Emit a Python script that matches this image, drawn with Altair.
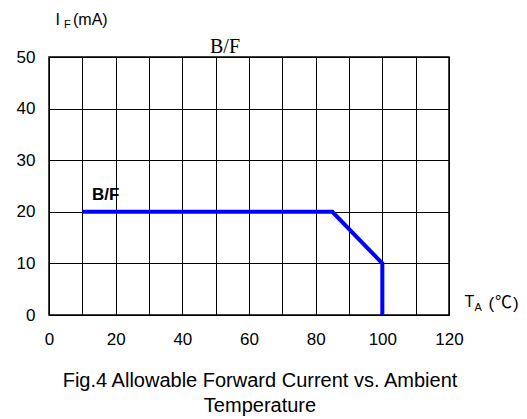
import altair as alt
import pandas as pd

# ---- data ----
temp_c = [10, 85, 100, 100]          # ambient temperature (°C)
current_ma = [20, 20, 10, 0]         # allowable forward current (mA)
x_grid = list(range(0, 121, 10))
y_grid = list(range(0, 51, 10))
series_name = "B/F"
chart_title = "B/F"
caption_lines = ["Fig.4 Allowable Forward Current vs. Ambient", "Temperature"]
y_title_main, y_title_sub, y_title_unit = "I", "F", "(mA)"
x_title_main, x_title_sub = "T", "A"
x_unit_open, x_unit, x_unit_close = "(", "℃", ")"

df = pd.DataFrame({"T": temp_c, "I": current_ma, "k": list(range(len(temp_c)))})

W, H = 400, 258
FONT = "Liberation Sans"

xscale = alt.Scale(domain=[0, 120], nice=False, zero=False)
yscale = alt.Scale(domain=[0, 50], nice=False, zero=False)

x_axis = alt.Axis(
    values=x_grid, labelExpr="datum.value % 20 == 0 ? datum.label : ''",
    grid=True, gridColor="black", gridOpacity=1, gridWidth=1,
    ticks=False, domain=False, labelFont=FONT, labelFontSize=17,
    labelColor="black", labelPadding=16, labelFlush=False, labelOverlap=False,
    title=None,
)
y_axis = alt.Axis(
    values=y_grid, grid=True, gridColor="black", gridOpacity=1, gridWidth=1,
    ticks=False, domain=False, labelFont=FONT, labelFontSize=17,
    labelColor="black", labelPadding=14, labelFlush=False, labelOverlap=False,
    title=None,
)

line = alt.Chart(df).mark_line(
    color="#0000ff", strokeWidth=4, strokeCap="butt", strokeJoin="miter"
).encode(
    x=alt.X("T:Q", scale=xscale, axis=x_axis),
    y=alt.Y("I:Q", scale=yscale, axis=y_axis),
    order="k:Q",
)


def label(text, x, y, size, font=FONT, weight="normal", align="left", **kw):
    d = pd.DataFrame({"t": [text]})
    return alt.Chart(d).mark_text(
        font=font, fontSize=size, fontWeight=weight, align=align,
        baseline="alphabetic", color="black", **kw
    ).encode(text="t:N", x=alt.value(x), y=alt.value(y))


layers = [
    line,
    # series label inside the plot
    label(series_name, 43, 143, 17, weight="bold"),
    # title
    label(chart_title, 176, -4, 20, font="Liberation Serif", align="center"),
    # y axis title I_F(mA)
    label(y_title_main, 6.5, -32, 16),
    label(y_title_sub, 15, -29, 11),
    label(y_title_unit, 24, -32, 16),
    # x axis title T_A (℃)
    label(x_title_main, 415.5, 250, 16),
    label(x_title_sub, 425.5, 254, 11),
    label(x_unit_open, 439.5, 252, 17),
    label(x_unit, 446, 250.5, 17, font="Noto Sans CJK SC"),
    label(x_unit_close, 464, 252, 17),
    # caption
    label("\n".join(caption_lines), 211, 330, 20, align="center",
          lineBreak="\n", lineHeight=25),
]

chart = alt.layer(*layers).properties(
    width=W, height=H,
    autosize=alt.AutoSizeParams(type="none"),
    padding={"left": 49, "top": 57, "right": 78, "bottom": 104},
    background="white",
).configure_view(stroke="black", strokeWidth=1.5)

chart.save("out.html", embed_options={"renderer": "svg", "actions": False})
